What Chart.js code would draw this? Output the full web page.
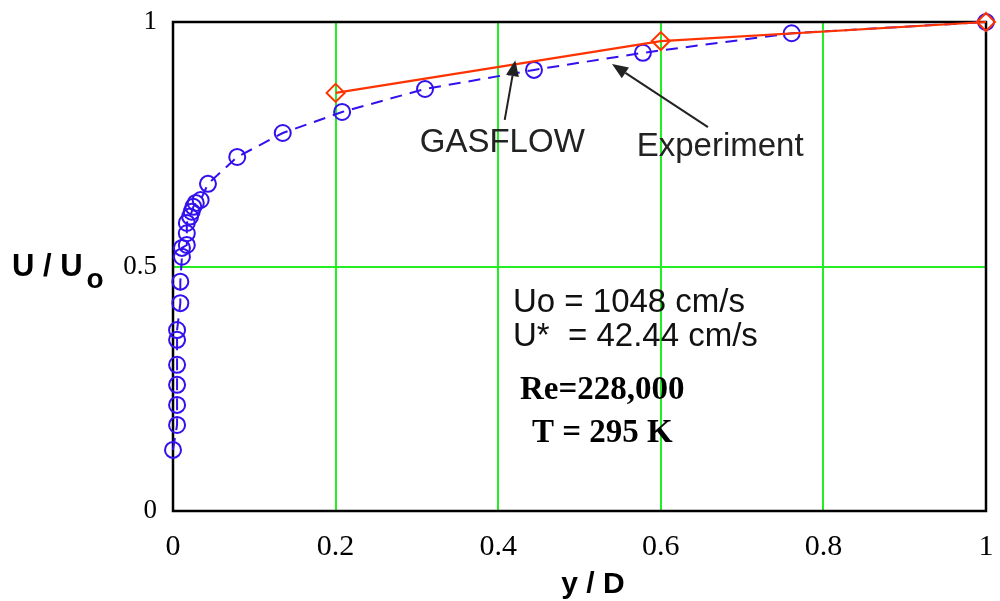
<!DOCTYPE html>
<html>
<head>
<meta charset="utf-8">
<script src="https://cdn.jsdelivr.net/npm/chart.js@4.4.1/dist/chart.umd.min.js"></script>
<style>
  html, body { margin: 0; padding: 0; background: #fff; }
  #wrap { width: 1000px; height: 601px; position: relative; }
</style>
</head>
<body>
<div id="wrap"><canvas id="c" width="1000" height="601"></canvas></div>
<script>
// ---- data ----
const gasX = [0.2, 0.6, 1.0];
const gasY = [0.855, 0.961, 1.0];

const expX = [0.0, 0.005, 0.005, 0.005, 0.005, 0.005, 0.005, 0.009, 0.009, 0.011, 0.011, 0.017, 0.017, 0.017,
              0.021, 0.023, 0.025, 0.028, 0.034, 0.043, 0.079, 0.135, 0.208, 0.310, 0.444, 0.578, 0.761, 1.0];
const expY = [0.125, 0.176, 0.217, 0.258, 0.299, 0.350, 0.370, 0.425, 0.469, 0.520, 0.538, 0.544, 0.568, 0.589,
              0.602, 0.612, 0.622, 0.630, 0.636, 0.669, 0.724, 0.773, 0.816, 0.863, 0.902, 0.937, 0.977, 1.0];

const xTickLabels = ['0', '0.2', '0.4', '0.6', '0.8', '1'];
const yTickLabels = ['0', '0.5', '1'];

const xTitle = 'y / D';
const yTitleMain = 'U / U';
const yTitleSub = 'o';
const infoLines = ['Uo = 1048 cm/s', 'U*  = 42.44 cm/s'];
const boldLines = ['Re=228,000', 'T = 295 K'];
const gasLabel = 'GASFLOW';
const expLabel = 'Experiment';

const toPts = (xs, ys) => xs.map((x, i) => ({ x: x, y: ys[i] }));

// ---- plugins ----
const framePlugin = {
  id: 'frame',
  beforeDatasetsDraw(chart) {
    const { ctx, chartArea: a } = chart;
    ctx.save();
    ctx.strokeStyle = '#000';
    ctx.lineWidth = 2.5;
    ctx.strokeRect(a.left, a.top, a.right - a.left, a.bottom - a.top);
    ctx.restore();
  }
};

function arrow(ctx, x1, y1, x2, y2) {
  const ang = Math.atan2(y2 - y1, x2 - x1);
  const len = 16, half = 6.5;
  const bx = x2 - len * Math.cos(ang), by = y2 - len * Math.sin(ang);
  ctx.beginPath();
  ctx.moveTo(x1, y1);
  ctx.lineTo(bx, by);
  ctx.stroke();
  ctx.beginPath();
  ctx.moveTo(x2, y2);
  ctx.lineTo(bx + half * Math.sin(ang), by - half * Math.cos(ang));
  ctx.lineTo(bx - half * Math.sin(ang), by + half * Math.cos(ang));
  ctx.closePath();
  ctx.fill();
}

const annotPlugin = {
  id: 'annot',
  afterDraw(chart) {
    const { ctx } = chart;
    const xs = chart.scales.x, ys = chart.scales.y;
    const px = v => xs.getPixelForValue(v);
    const py = v => ys.getPixelForValue(v);
    ctx.save();
    ctx.fillStyle = '#222';
    ctx.strokeStyle = '#222';
    ctx.lineWidth = 2;

    // series labels + arrows
    ctx.font = '33px "Liberation Sans", Arial, sans-serif';
    ctx.textAlign = 'center';
    ctx.textBaseline = 'alphabetic';
    ctx.fillText(gasLabel, px(0.405), py(0.735));
    ctx.fillText(expLabel, px(0.673), py(0.725));
    arrow(ctx, px(0.408), py(0.80), px(0.421), py(0.922));
    arrow(ctx, px(0.658), py(0.785), px(0.540), py(0.914));

    // info text
    ctx.fillStyle = '#111';
    ctx.textAlign = 'left';
    ctx.fillText(infoLines[0], 513, 312);
    ctx.fillText(infoLines[1], 513, 346);
    ctx.fillStyle = '#000';
    ctx.font = 'bold 33px "Liberation Serif", "Times New Roman", serif';
    ctx.fillText(boldLines[0], 520, 399);
    ctx.fillText(boldLines[1], 532, 442);

    // axis titles
    ctx.font = 'bold 31px "Liberation Sans", Arial, sans-serif';
    ctx.textAlign = 'left';
    ctx.fillText(yTitleMain, 12, 276);
    const w = ctx.measureText(yTitleMain).width;
    ctx.font = 'bold 28px "Liberation Sans", Arial, sans-serif';
    ctx.fillText(yTitleSub, 12 + w + 4, 288);
    ctx.textAlign = 'center';
    ctx.font = 'bold 30px "Liberation Sans", Arial, sans-serif';
    ctx.fillText(xTitle, 593, 593);
    ctx.restore();
  }
};

function noPad(s) {
  s.paddingTop = 0; s.paddingBottom = 0; s.paddingLeft = 0; s.paddingRight = 0;
}

// ---- chart ----
const ctx = document.getElementById('c').getContext('2d');
new Chart(ctx, {
  type: 'scatter',
  data: {
    datasets: [
      {
        label: gasLabel,
        data: toPts(gasX, gasY),
        showLine: true,
        clip: false,
        borderColor: '#ff3300',
        borderWidth: 2.2,
        pointStyle: 'rectRot',
        pointRadius: 9,
        pointBorderWidth: 2,
        pointBorderColor: '#ff3300',
        pointBackgroundColor: 'rgba(0,0,0,0)',
        tension: 0
      },
      {
        label: expLabel,
        data: toPts(expX, expY),
        showLine: true,
        clip: false,
        borderColor: '#3311ee',
        borderWidth: 2,
        borderDash: [12, 8],
        pointStyle: 'circle',
        pointRadius: 8,
        pointBorderWidth: 2,
        pointBorderColor: '#3311ee',
        pointBackgroundColor: 'rgba(0,0,0,0)',
        tension: 0
      }
    ]
  },
  options: {
    responsive: false,
    animation: false,
    devicePixelRatio: 1,
    layout: { padding: { left: 0, right: 14, top: 22, bottom: 0 } },
    plugins: { legend: { display: false }, tooltip: { enabled: false } },
    scales: {
      x: {
        type: 'linear', min: 0, max: 1,
        afterFit(s) { s.height = 90; noPad(s); },
        border: { display: false },
        grid: {
          drawTicks: false,
          lineWidth: 2,
          color: c => (c.tick && (c.tick.value === 0 || c.tick.value === 1)) ? 'rgba(0,0,0,0)' : '#22ee22'
        },
        ticks: {
          stepSize: 0.2,
          padding: 18,
          color: '#000',
          font: { family: '"Liberation Serif", "Times New Roman", serif', size: 30 },
          callback: (v, i) => xTickLabels[i]
        }
      },
      y: {
        type: 'linear', min: 0, max: 1,
        afterFit(s) { s.width = 173; noPad(s); },
        border: { display: false },
        grid: {
          drawTicks: false,
          lineWidth: 2,
          color: c => (c.tick && (c.tick.value === 0 || c.tick.value === 1)) ? 'rgba(0,0,0,0)' : '#22ee22'
        },
        ticks: {
          stepSize: 0.5,
          padding: 16,
          color: '#000',
          font: { family: '"Liberation Serif", "Times New Roman", serif', size: 27 },
          callback: (v, i) => yTickLabels[i]
        }
      }
    }
  },
  plugins: [framePlugin, annotPlugin]
});
</script>
</body>
</html>
